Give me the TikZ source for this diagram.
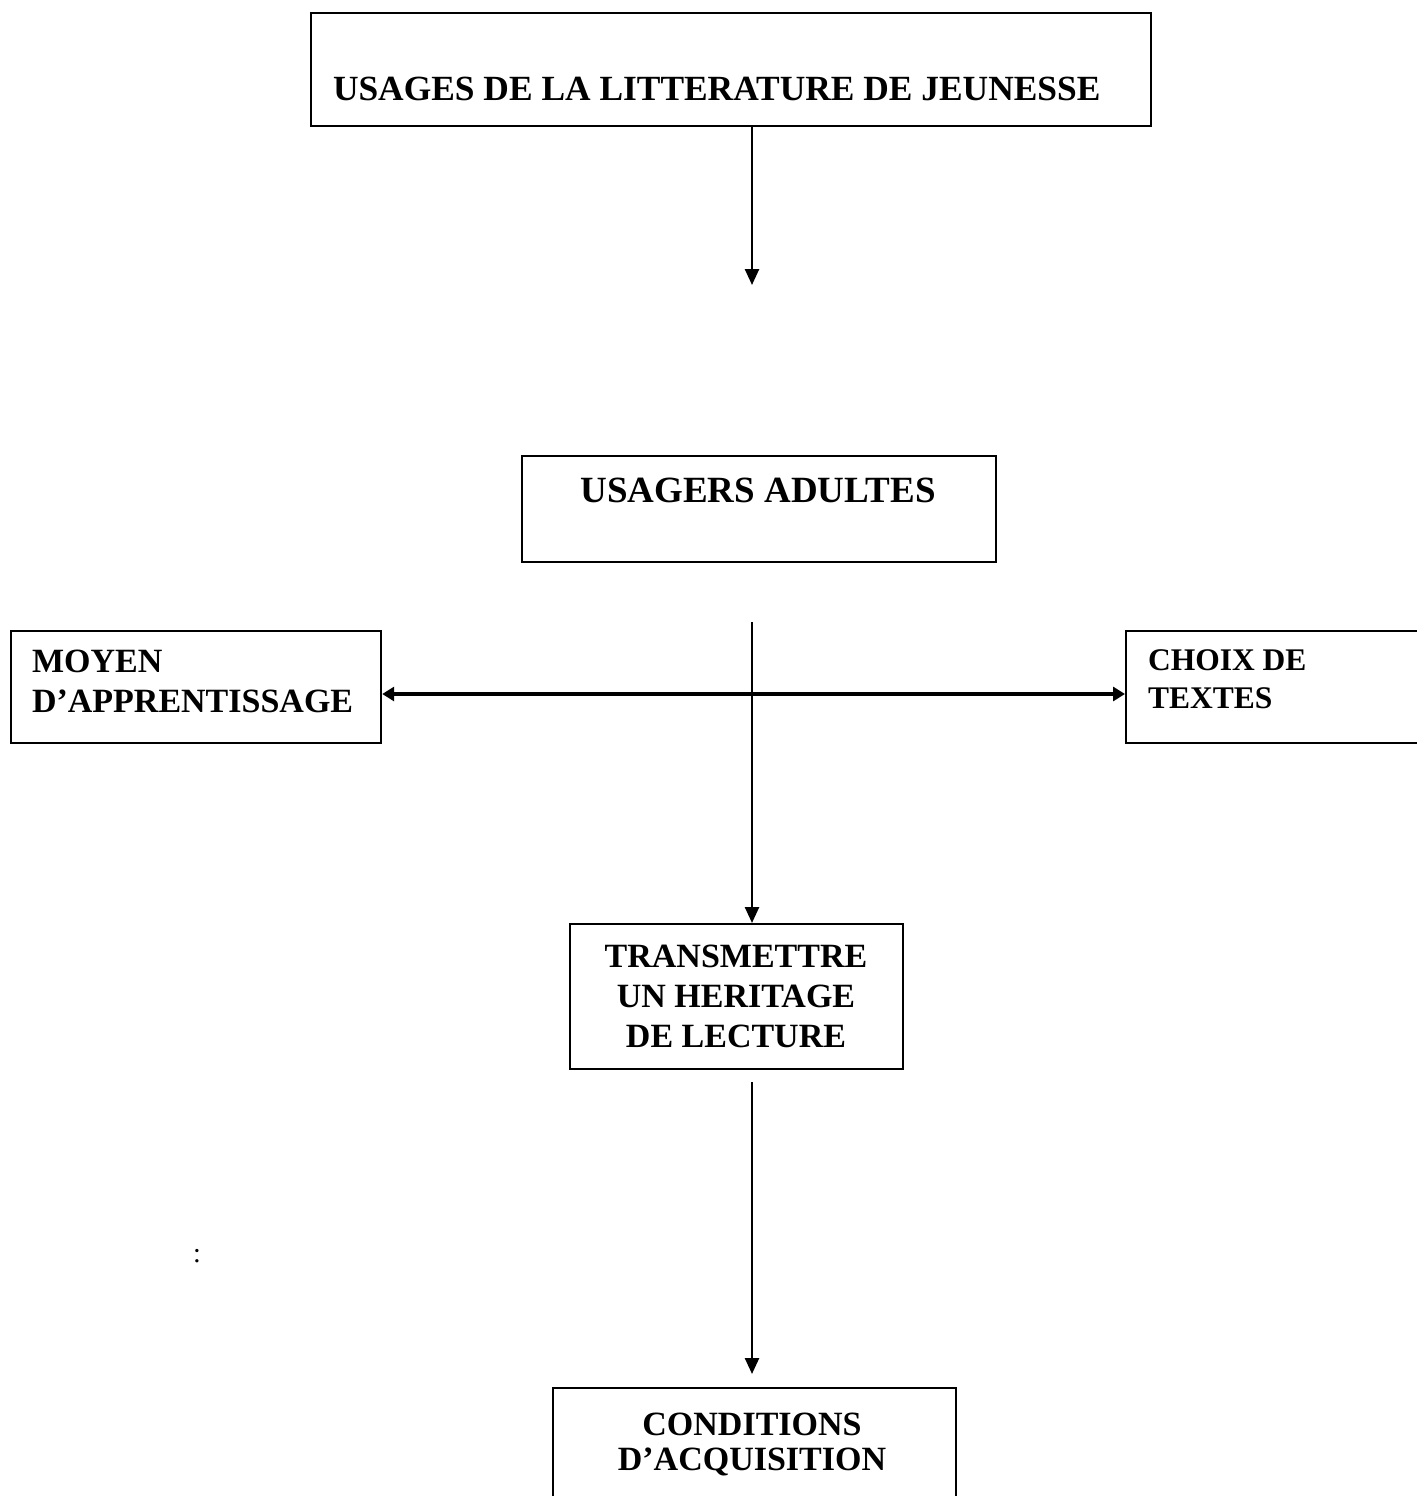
\documentclass[tikz,border=0pt]{standalone}
\usepackage{fontspec}
\setmainfont{Liberation Serif}
\usetikzlibrary{arrows.meta}
\begin{document}
\begin{tikzpicture}[x=1pt,y=-1pt,
  frame/.style={draw,line width=2.2pt,inner sep=0pt,anchor=north west},
  lbl/.style={inner sep=0pt,outer sep=0pt},
  arr/.style={line width=2.5pt,-{Triangle[length=16pt,width=14pt]}},
  harr/.style={line width=3.2pt,{Triangle[length=12pt,width=14pt]}-{Triangle[length=12pt,width=14pt]}}]
\useasboundingbox[fill=white] (0,0) rectangle (1416,1496);

% boxes
\node[frame,minimum width=840pt,minimum height=113pt] (b1) at (310,12) {};
\node[frame,minimum width=474pt,minimum height=106pt] (b2) at (521,455) {};
\node[frame,minimum width=370pt,minimum height=112pt] (b3) at (10,630) {};
\node[frame,minimum width=330pt,minimum height=112pt] (b4) at (1125,630) {};
\node[frame,minimum width=333pt,minimum height=145pt] (b5) at (569,923) {};
\node[frame,minimum width=403pt,minimum height=200pt] (b6) at (552,1387) {};

% texts
\node[lbl,anchor=base west,font=\bfseries\fontsize{35.4}{42}\selectfont] (t1) at (333,100) {USAGES DE LA LITTERATURE DE JEUNESSE};
\node[lbl,anchor=base,font=\bfseries\fontsize{37}{44}\selectfont] (t2) at (758,502) {USAGERS ADULTES};
\node[lbl,anchor=base west,align=left,font=\bfseries\fontsize{34}{40}\selectfont] (t3) at (32,712) {MOYEN\\D’APPRENTISSAGE};
\node[lbl,anchor=base west,align=left,font=\bfseries\fontsize{31.5}{38}\selectfont] (t4) at (1148,708) {CHOIX DE\\TEXTES};
\node[lbl,anchor=base,align=center,font=\bfseries\fontsize{34}{40}\selectfont] (t5) at (736,1047) {TRANSMETTRE\\UN HERITAGE\\DE LECTURE};
\node[lbl,anchor=base,align=center,font=\bfseries\fontsize{34}{35}\selectfont] (t6) at (752,1470) {CONDITIONS\\D’ACQUISITION};
\node[lbl,anchor=base,font=\fontsize{28}{32}\selectfont] (colon) at (197,1262) {:};

% free ends
\coordinate (e1) at (752,285);
\coordinate (s2) at (752,622);
\coordinate (hy) at (752,694);
\coordinate (s3) at (752,1082);
\coordinate (e3) at (752,1374);

% connectors
\draw[arr] (b1.south -| e1) -- (e1);
\draw[harr] (b3.east |- hy) -- (b4.west |- hy);
\draw[arr] (s2) -- (b5.north -| s2);
\draw[arr] (s3) -- (e3);
\end{tikzpicture}
\end{document}
